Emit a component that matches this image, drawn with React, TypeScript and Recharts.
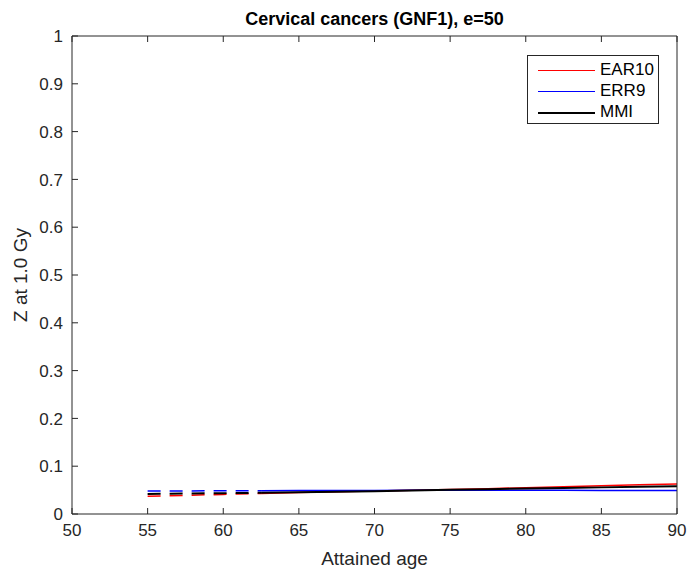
import React from "react"
import { LineChart, Line, XAxis, YAxis } from "recharts"

// attained age grid
const ages = [55, 57.5, 60, 62.5, 65, 67.5, 70, 72.5, 75, 77.5, 80, 82.5, 85, 87.5, 90]
const splitAge = 62.5

const ear10 = [0.037, 0.039, 0.041, 0.043, 0.045, 0.0465, 0.048, 0.0495, 0.051, 0.053, 0.055, 0.057, 0.059, 0.061, 0.063]
const err9 = [0.048, 0.0483, 0.0486, 0.0488, 0.049, 0.0492, 0.0494, 0.0496, 0.0498, 0.0498, 0.0497, 0.0496, 0.0494, 0.0492, 0.049]
const mmi = [0.042, 0.0428, 0.0436, 0.0444, 0.0455, 0.0465, 0.0478, 0.049, 0.0505, 0.052, 0.0533, 0.0545, 0.0557, 0.0568, 0.058]

const xTicks = [50, 55, 60, 65, 70, 75, 80, 85, 90]
const yTicks = [0, 0.1, 0.2, 0.3, 0.4, 0.5, 0.6, 0.7, 0.8, 0.9, 1]

const data = ages.map((a, i) => ({
  age: a,
  earD: a <= splitAge ? ear10[i] : null,
  earS: a >= splitAge ? ear10[i] : null,
  errD: a <= splitAge ? err9[i] : null,
  errS: a >= splitAge ? err9[i] : null,
  mmiD: a <= splitAge ? mmi[i] : null,
  mmiS: a >= splitAge ? mmi[i] : null,
}))

const font = "'Liberation Sans', Arial, Helvetica, sans-serif"
const axisColor = "#262626"
const dash = "13 9"
const tickLen = 6
const tickFont = 17

// matlab style ticks: pointing into the box, labels outside
const BottomTick = (p: any) => (
  <g>
    <line x1={p.x} y1={p.y} x2={p.x} y2={p.y - tickLen} stroke={axisColor} />
    <text x={p.x} y={p.y + 9} dy="0.75em" textAnchor="middle" fontSize={tickFont} fill={axisColor} fontFamily={font}>
      {p.payload.value}
    </text>
  </g>
)
const LeftTick = (p: any) => (
  <g>
    <line x1={p.x} y1={p.y} x2={p.x + tickLen} y2={p.y} stroke={axisColor} />
    <text x={p.x - 9} y={p.y} dy="0.36em" textAnchor="end" fontSize={tickFont} fill={axisColor} fontFamily={font}>
      {p.payload.value}
    </text>
  </g>
)
const TopTick = (p: any) => <line x1={p.x} y1={p.y} x2={p.x} y2={p.y + tickLen} stroke={axisColor} />
const RightTick = (p: any) => <line x1={p.x} y1={p.y} x2={p.x - tickLen} y2={p.y} stroke={axisColor} />

const legendItems = [
  { name: "EAR10", color: "#ff0000", w: 1 },
  { name: "ERR9", color: "#0000ff", w: 1 },
  { name: "MMI", color: "#000000", w: 2 },
]

export default function App() {
  return (
    <div style={{ position: "absolute", left: 0, top: 0, width: 688, height: 572, background: "#fff", fontFamily: font }}>
      <div style={{ position: "absolute", left: 72, width: 605, top: 9, lineHeight: "20px", textAlign: "center", fontSize: 18, fontWeight: 700, color: "#000" }}>
        Cervical cancers (GNF1), e=50
      </div>
      <LineChart width={688} height={572} data={data} margin={{ top: 35, right: 10, bottom: 28, left: 0 }}>
        <XAxis
          dataKey="age"
          type="number"
          domain={[50, 90]}
          ticks={xTicks}
          interval={0}
          height={30}
          tick={<BottomTick />}
          tickLine={false}
          tickSize={0}
          tickMargin={0}
          stroke={axisColor}
          label={{ value: "Attained age", position: "insideBottom", offset: -21, fontSize: 19, fill: axisColor, fontFamily: font }}
        />
        <XAxis
          xAxisId="top"
          dataKey="age"
          type="number"
          orientation="top"
          domain={[50, 90]}
          ticks={xTicks}
          interval={0}
          height={1}
          tick={<TopTick />}
          tickLine={false}
          tickSize={0}
          tickMargin={0}
          stroke={axisColor}
        />
        <YAxis
          type="number"
          domain={[0, 1]}
          ticks={yTicks}
          interval={0}
          width={72}
          tick={<LeftTick />}
          tickLine={false}
          tickSize={0}
          tickMargin={0}
          stroke={axisColor}
          label={{ value: "Z at  1.0 Gy", angle: -90, position: "insideLeft", offset: 20, fontSize: 19, fill: axisColor, fontFamily: font, style: { textAnchor: "middle", whiteSpace: "pre" } }}
        />
        <YAxis
          yAxisId="right"
          type="number"
          orientation="right"
          domain={[0, 1]}
          ticks={yTicks}
          interval={0}
          width={1}
          tick={<RightTick />}
          tickLine={false}
          tickSize={0}
          tickMargin={0}
          stroke={axisColor}
        />
        <Line dataKey="earD" stroke="#ff0000" strokeWidth={1.5} strokeDasharray={dash} dot={false} isAnimationActive={false} />
        <Line dataKey="errD" stroke="#0000ff" strokeWidth={1.5} strokeDasharray={dash} dot={false} isAnimationActive={false} />
        <Line dataKey="mmiD" stroke="#000000" strokeWidth={2} strokeDasharray={dash} dot={false} isAnimationActive={false} />
        <Line dataKey="earS" stroke="#ff0000" strokeWidth={1.5} dot={false} isAnimationActive={false} />
        <Line dataKey="errS" stroke="#0000ff" strokeWidth={1.5} dot={false} isAnimationActive={false} />
        <Line dataKey="mmiS" stroke="#000000" strokeWidth={2} dot={false} isAnimationActive={false} />
      </LineChart>
      <div style={{ position: "absolute", left: 527, top: 55, width: 130, height: 67, border: "1px solid #262626", background: "#fff", fontSize: 17, color: "#000" }}>
        {legendItems.map((it, i) => (
          <div key={it.name} style={{ position: "absolute", left: 0, top: 4 + i * 21, width: 130, height: 20 }}>
            <div style={{ position: "absolute", left: 10, top: 10, width: 57, height: it.w, background: it.color }} />
            <span style={{ position: "absolute", left: 72, top: 0, lineHeight: "20px" }}>{it.name}</span>
          </div>
        ))}
      </div>
    </div>
  )
}
